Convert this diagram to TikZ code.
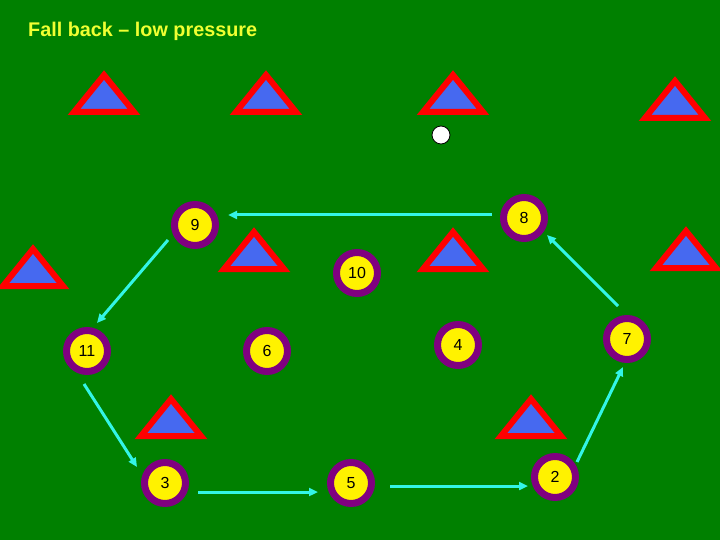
\documentclass[tikz,border=0pt]{standalone}
\usepackage{fontspec}
\setmainfont{Liberation Sans}
\usetikzlibrary{arrows.meta}
\definecolor{pitch}{RGB}{0,128,0}
\definecolor{conblue}{RGB}{70,105,240}
\definecolor{flowcyan}{RGB}{51,245,230}
\definecolor{titleyellow}{RGB}{240,255,50}
\definecolor{ringpurple}{RGB}{128,0,128}
\tikzset{
  player/.style={circle, fill=yellow, draw=ringpurple, line width=7pt, minimum size=41pt, inner sep=0pt, font=\fontsize{16}{16}\selectfont},
  conestyle/.style={draw=red, fill=conblue, line width=6pt, line join=miter},
  cone/.pic={\path[conestyle] (0,5) -- (30,42) -- (-30,42) -- cycle;},
  flow/.style={draw=flowcyan, line width=3pt, -{Triangle[length=9pt,width=8pt]}},
}
\begin{document}
\begin{tikzpicture}[x=1pt,y=-1pt]
\fill[pitch] (0,0) rectangle (720,540);
\useasboundingbox (0,0) rectangle (720,540);
\node[anchor=base west, text=titleyellow, font=\bfseries\fontsize{19.8}{22}\selectfont, inner sep=0pt] (title) at (28,37) {Fall back – low pressure};
% cones
\pic at (104,70) {cone};
\pic at (266,70) {cone};
\pic at (453,70) {cone};
\pic at (675,76) {cone};
\pic at (33,244) {cone};
\pic at (254,227) {cone};
\pic at (453,227) {cone};
\pic at (686,226) {cone};
\pic at (171,394) {cone};
\pic at (531,394) {cone};
% ball
\node[circle, fill=white, draw=black, line width=0.8pt, minimum size=18pt, inner sep=0pt] (ball) at (441,135) {};
% players
\node[player] (n9) at (195,225) {9};
\node[player] (n8) at (524,218) {8};
\node[player] (n10) at (357,273) {10};
\node[player] (n11) at (87,351) {11};
\node[player] (n6) at (267,351) {6};
\node[player] (n4) at (458,345) {4};
\node[player] (n7) at (627,339) {7};
\node[player] (n3) at (165,483) {3};
\node[player] (n5) at (351,483) {5};
\node[player] (n2) at (555,477) {2};
% runs
\draw[flow] ([shift={(-32,-3)}]n8.center) -- ([shift={(33,-10)}]n9.center);
\draw[flow] ([shift={(-27,15)}]n9.center) -- ([shift={(10,-28)}]n11.center);
\draw[flow] ([shift={(-3,33)}]n11.center) -- ([shift={(-28,-16)}]n3.center);
\draw[flow] ([shift={(33,9)}]n3.center) -- ([shift={(-33,9)}]n5.center);
\draw[flow] ([shift={(39,3)}]n5.center) -- ([shift={(-27,9)}]n2.center);
\draw[flow] ([shift={(22,-15)}]n2.center) -- ([shift={(-4,28)}]n7.center);
\draw[flow] ([shift={(-9,-33)}]n7.center) -- ([shift={(23,17)}]n8.center);
\end{tikzpicture}
\end{document}
